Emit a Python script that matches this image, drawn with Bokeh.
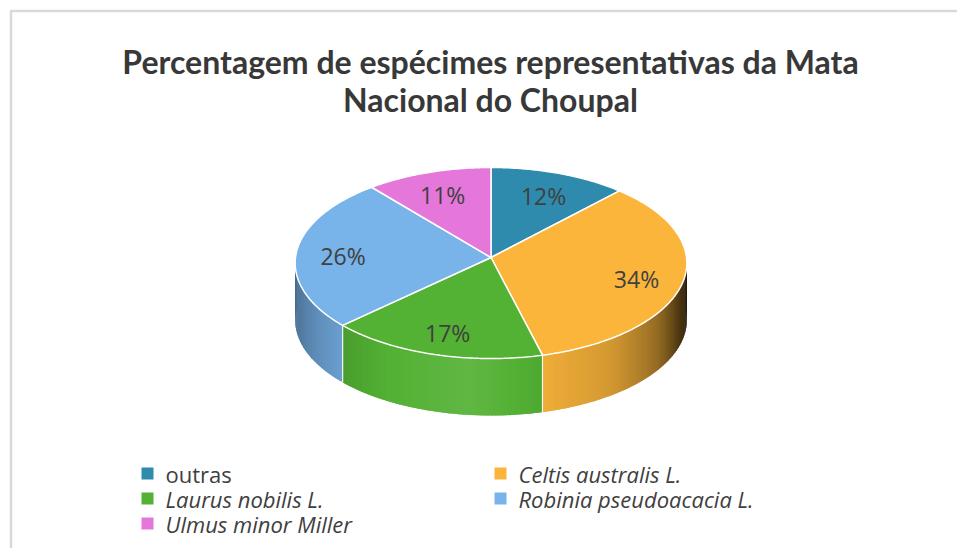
import numpy as np
from bokeh.plotting import figure
from bokeh.models import Range1d
from bokeh.core.properties import value
from bokeh.embed import file_html
from bokeh.resources import INLINE

# ---------------- data ----------------
title_lines = ["Percentagem de espécimes representativas da Mata", "Nacional do Choupal"]
categories = ["outras", "Celtis australis L.", "Laurus nobilis L.",
              "Robinia pseudoacacia L.", "Ulmus minor Miller"]
percentages = [12, 34, 17, 26, 11]
colors = ["#2E8BAE", "#FBB53B", "#53B134", "#78B3EA", "#E477D9"]
italic_label = [False, True, True, True, True]

# ---------------- figure (1 data unit = 1 page pixel) ----------------
W, H = 957, 548
p = figure(width=W, height=H, x_range=Range1d(0, W), y_range=Range1d(H, 0),
           output_backend="svg", toolbar_location=None, min_border=0,
           x_axis_location=None, y_axis_location=None)
p.grid.visible = False
p.outline_line_color = None
p.background_fill_color = "white"
p.border_fill_color = "white"

# chart-area border (left and top visible)
p.segment(x0=[10.5, 10], y0=[H, 10.5], x1=[10.5, W], y1=[10, 10.5],
          line_color="#d9d9d9", line_width=2.5)

# ---------------- title ----------------
p.text(x=[490, 490], y=[61, 99], text=title_lines, text_align="center",
       text_baseline="alphabetic", text_font=value("Lato"),
       text_font_style="bold", text_font_size="32px", text_color="#383838")

# ---------------- 3D pie (perspective projection of a tilted disc) ----------------
cx, cy, ax, sy_, kp, depth = 490.5, 257.0, 195.5, 95.2, 0.0576, 57.0
total = float(sum(percentages))
edges = np.concatenate([[0.0], np.cumsum(percentages) / total * 360.0])


def pt(t, dy=0.0, q=1.0):
    r = np.radians(t)
    den = 1.0 + kp * q * np.cos(r)
    return cx + ax * q * np.sin(r) / den, cy - sy_ * q * np.cos(r) / den + dy


def hex_rgb(h):
    h = h.lstrip("#")
    return np.array([int(h[i:i + 2], 16) for i in (0, 2, 4)], dtype=float)


def shade(h, f):
    c = hex_rgb(h)
    if f <= 1:
        c = c * f
    else:
        c = c + (255 - c) * (f - 1)
    c = np.clip(c, 0, 255).astype(int)
    return "#%02x%02x%02x" % tuple(c)


light_t = [90, 98, 112, 125, 145, 165, 186, 210, 228, 245, 257, 270]
light_f = [0.1, 0.15, 0.35, 0.6, 0.85, 0.95, 1.08, 1.0, 0.88, 0.75, 0.65, 0.58]

# side walls (visible front half only), drawn as overlapping thin strips
t_lo, t_hi = 86.7, 273.3   # silhouette angles of the projected disc
xs_side, ys_side, col_side = [], [], []
for i, c in enumerate(colors):
    a0, a1 = max(edges[i], t_lo), min(edges[i + 1], t_hi)
    if a1 <= a0:
        continue
    n = max(2, int(np.ceil((a1 - a0) / 1.0)))
    ts = np.linspace(a0, a1, n + 1)
    for k in range(n):
        t0, t1 = ts[k], min(ts[k + 1] + 0.8, a1)
        x0, y0 = pt(t0)
        x1, y1 = pt(t1)
        x2, y2 = pt(t1, depth)
        x3, y3 = pt(t0, depth)
        xs_side.append([x0, x1, x2, x3])
        ys_side.append([y0, y1, y2, y3])
        col_side.append(shade(c, float(np.interp(0.5 * (ts[k] + ts[k + 1]), light_t, light_f))))
p.patches(xs=xs_side, ys=ys_side, fill_color=col_side, line_color=None)

# separators on the side wall
sep_x0, sep_y0, sep_x1, sep_y1 = [], [], [], []
for a in edges[1:-1]:
    if t_lo < a < t_hi:
        x0, y0 = pt(a)
        x1, y1 = pt(a, depth)
        sep_x0.append(x0); sep_y0.append(y0); sep_x1.append(x1); sep_y1.append(y1)
p.segment(x0=sep_x0, y0=sep_y0, x1=sep_x1, y1=sep_y1, line_color="#f4f4f4", line_width=1.2)

# top face
xs_top, ys_top = [], []
for i in range(len(percentages)):
    ts = np.linspace(edges[i], edges[i + 1], 80)
    ex, ey = pt(ts)
    xs_top.append(np.concatenate([[cx], ex]).tolist())
    ys_top.append(np.concatenate([[cy], ey]).tolist())
p.patches(xs=xs_top, ys=ys_top, fill_color=colors, line_color="white", line_width=1.5)

# percentage labels
mids = 0.5 * (edges[:-1] + edges[1:])
lx, ly = pt(mids, q=0.76)
ly = ly + 3
p.text(x=lx, y=ly, text=["%d%%" % v for v in percentages], text_align="center",
       text_baseline="middle", text_font=value("Open Sans"), text_font_size="23px",
       text_color="#404040")

# ---------------- legend ----------------
col_x = [147, 500]
row_y = [473, 498, 523]
sq_x = [col_x[i % 2] for i in range(len(categories))]
sq_y = [row_y[i // 2] for i in range(len(categories))]
p.scatter(x=sq_x, y=sq_y, marker="square", size=12, fill_color=colors, line_color=None)
for style in ("normal", "italic"):
    idx = [i for i in range(len(categories)) if italic_label[i] == (style == "italic")]
    p.text(x=[sq_x[i] + 18 for i in idx], y=[sq_y[i] for i in idx],
           text=[categories[i] for i in idx], text_align="left", text_baseline="middle",
           text_font=value("Open Sans"), text_font_style=style, text_font_size="22px",
           text_color="#404040")

open("out.html", "w").write(file_html(p, INLINE))
